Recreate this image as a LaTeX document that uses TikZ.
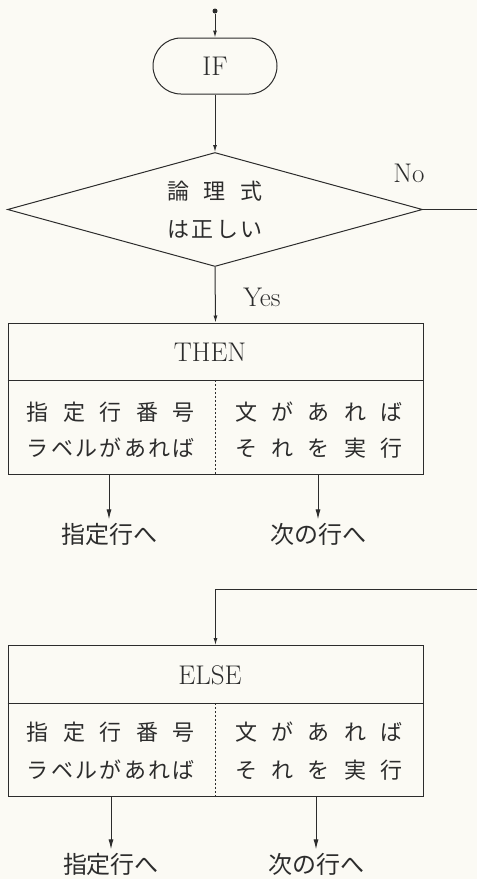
\documentclass[tikz,border=0pt]{standalone}
\usepackage{fontspec}
\newfontfamily\jp{Noto Sans CJK JP}
\usetikzlibrary{shapes.geometric,shapes.misc,arrows.meta}
\definecolor{ink}{HTML}{2C2C2C}
\definecolor{paper}{HTML}{FBFAF4}
\begin{document}
\begin{tikzpicture}[x=1pt,y=-1pt,line width=1pt,color=ink,
  en/.style={font=\fontsize{27}{30}\selectfont},
  jpf/.style={font=\jp\fontsize{22}{38}\selectfont},
  jpl/.style={font=\jp\fontsize{24}{28}\selectfont},
  term/.style={rounded rectangle,draw,minimum width=124pt,minimum height=56pt,inner sep=0pt},
  dec/.style={diamond,draw,minimum width=415pt,minimum height=114pt,shape aspect=3.6,inner sep=0pt,align=center},
  blk/.style={rectangle,draw,minimum width=415pt,minimum height=151pt,inner sep=0pt},
  txt/.style={inner sep=0pt},
  lbl/.style={inner sep=3pt},
  arr/.style={-{Latex[length=7pt,width=4pt]}},
  arrb/.style={-{Latex[length=10pt,width=5pt]}},
  sepline/.style={dash pattern=on 2pt off 2pt,line width=0.6pt}]
\fill[paper] (0,0) rectangle (477,879);
\clip (0,0) rectangle (477,879);
% start
\node[circle,fill,inner sep=0pt,minimum size=5pt] (start) at (215,11) {};
\node[term,en] (if) at (215,66) {IF};
\node[dec,jpf] (cond) at (215,209.5) {\makebox[96pt][s]{論\hfill 理\hfill 式}\\\makebox[96pt][s]{は\hfill 正\hfill し\hfill い}};
\node[txt,en] (no) at (409,173) {No};
\node[txt,en] (yes) at (262,297) {Yes};
% THEN block
\node[blk] (thenbox) at (215.5,398.5) {};
\node[txt,en] (thenhd) at (210,352) {THEN};
\coordinate (thendiv) at (0,380);
\draw (thenbox.west |- thendiv) -- (thenbox.east |- thendiv);
\draw[sepline] (thenbox.north |- thendiv) -- (thenbox.south);
\node[txt,jpf] (tl1) at (111,412) {\makebox[168pt][s]{指\hfill 定\hfill 行\hfill 番\hfill 号}};
\node[txt,jpf] (tl2) at (111,448) {\makebox[168pt][s]{ラ\hfill ベ\hfill ル\hfill が\hfill あ\hfill れ\hfill ば}};
\node[txt,jpf] (tr1) at (319,412) {\makebox[168pt][s]{文\hfill が\hfill あ\hfill れ\hfill ば}};
\node[txt,jpf] (tr2) at (319,448) {\makebox[168pt][s]{そ\hfill れ\hfill を\hfill 実\hfill 行}};
\node[lbl,jpl] (tgo1) at (109,534) {指定行へ};
\node[lbl,jpl] (tgo2) at (318,534) {次の行へ};
% ELSE block
\node[blk] (elsebox) at (215.5,721) {};
\node[txt,en] (elsehd) at (210,675) {ELSE};
\coordinate (elsediv) at (0,703);
\draw (elsebox.west |- elsediv) -- (elsebox.east |- elsediv);
\draw[sepline] (elsebox.north |- elsediv) -- (elsebox.south);
\node[txt,jpf] (el1) at (111,732) {\makebox[168pt][s]{指\hfill 定\hfill 行\hfill 番\hfill 号}};
\node[txt,jpf] (el2) at (111,770) {\makebox[168pt][s]{ラ\hfill ベ\hfill ル\hfill が\hfill あ\hfill れ\hfill ば}};
\node[txt,jpf] (er1) at (319,732) {\makebox[168pt][s]{文\hfill が\hfill あ\hfill れ\hfill ば}};
\node[txt,jpf] (er2) at (319,770) {\makebox[168pt][s]{そ\hfill れ\hfill を\hfill 実\hfill 行}};
\node[lbl,jpl] (ego1) at (111,864) {指定行へ};
\node[lbl,jpl] (ego2) at (316,864) {次の行へ};
% connectors
\draw[arr] (start) -- (if.north);
\draw[arr] (if.south) -- (cond.north);
\draw[arr] (cond.south) -- (thenbox.north);
\draw[arr] (cond.east) -- (495,209.5) -- (495,589) -| (elsebox.north);
\draw[arrb] (tgo1.north |- thenbox.south) -- (tgo1.north);
\draw[arrb] (tgo2.north |- thenbox.south) -- (tgo2.north);
\draw[arrb] (ego1.north |- elsebox.south) -- (ego1.north);
\draw[arrb] (ego2.north |- elsebox.south) -- (ego2.north);
\end{tikzpicture}
\end{document}
